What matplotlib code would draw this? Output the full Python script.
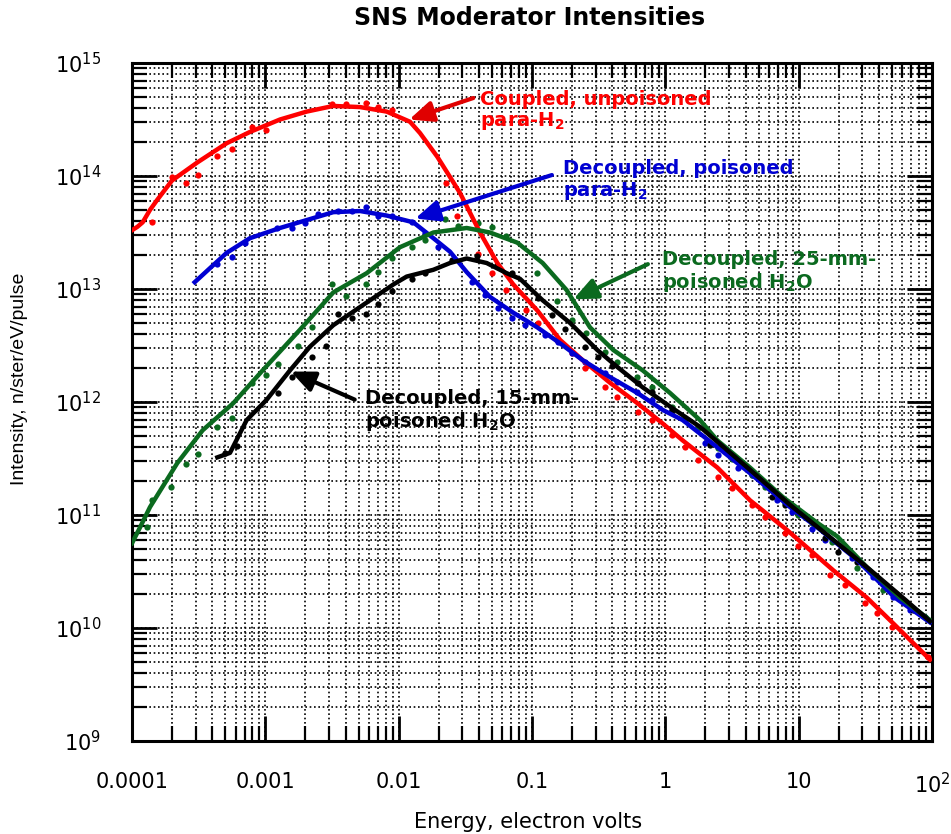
import numpy as np
import matplotlib
matplotlib.use("Agg")
import matplotlib.pyplot as plt
from matplotlib.ticker import LogLocator, NullFormatter

plt.rcParams['font.family'] = ['DejaVu Sans']
plt.rcParams['mathtext.fontset'] = 'dejavusans'

# values, stored as log10(E [eV]) and log10(I)
red_logE = [-4.0, -3.96, -3.92, -3.865, -3.81, -3.70, -3.51, -3.29, -3.115, -2.89, -2.69, -2.49,
            -2.29, -2.09, -1.915, -1.84, -1.71, -1.54, -1.39, -1.26, -1.14, -0.96, -0.79, -0.62, -0.415,
            -0.21, -0.02, 0.13, 0.39, 0.635, 0.91, 1.26, 1.51, 1.71, 1.985]
red_logI = [13.52, 13.55, 13.59, 13.70, 13.79, 13.96, 14.12, 14.29, 14.39, 14.50, 14.57, 14.62,
            14.61, 14.57, 14.48, 14.38, 14.17, 13.85, 13.50, 13.23, 13.04, 12.81, 12.55, 12.37, 12.17,
            11.99, 11.81, 11.66, 11.42, 11.13, 10.87, 10.51, 10.27, 10.04, 9.72]

blue_logE = [-3.53, -3.29, -3.115, -2.89, -2.69, -2.49, -2.29, -2.09, -1.89, -1.74, -1.615, -1.49,
             -1.315, -1.14, -0.96, -0.79, -0.62, -0.415, -0.21, -0.02, 0.13, 0.39, 0.635, 0.935,
             1.14, 1.44, 1.72, 1.985]
blue_logI = [13.06, 13.32, 13.45, 13.54, 13.61, 13.68, 13.69, 13.65, 13.59, 13.45, 13.33, 13.15,
             12.93, 12.79, 12.66, 12.52, 12.37, 12.22, 12.08, 11.93, 11.84, 11.60, 11.37, 11.07,
             10.89, 10.60, 10.27, 10.05]

green_logE = [-4.0, -3.94, -3.865, -3.66, -3.47, -3.24, -3.02, -2.74, -2.49, -2.24, -1.99, -1.74,
              -1.49, -1.315, -1.11, -0.92, -0.74, -0.565, -0.39, -0.17, 0.035, 0.26, 0.39, 0.635,
              0.88, 1.14, 1.29, 1.51, 1.76, 1.985]
green_logI = [10.75, 10.89, 11.07, 11.46, 11.75, 11.99, 12.28, 12.64, 12.97, 13.14, 13.37, 13.50,
              13.54, 13.50, 13.41, 13.23, 12.99, 12.66, 12.46, 12.28, 12.08, 11.84, 11.66, 11.42,
              11.16, 10.93, 10.81, 10.54, 10.27, 10.07]

black_logE = [-3.36, -3.265, -3.14, -2.99, -2.815, -2.665, -2.49, -2.29, -2.04, -1.94, -1.74, -1.615,
              -1.49, -1.34, -1.19, -1.09, -0.92, -0.715, -0.51, -0.36, -0.17, 0.035, 0.26, 0.635,
              0.935, 1.26, 1.51, 1.76, 1.985]
black_logI = [11.51, 11.55, 11.84, 12.02, 12.28, 12.49, 12.68, 12.84, 13.04, 13.11, 13.17, 13.23,
              13.27, 13.23, 13.14, 13.09, 12.90, 12.70, 12.46, 12.31, 12.13, 11.96, 11.78, 11.40,
              11.09, 10.78, 10.54, 10.29, 10.06]

# measured points (dots)
red_pts_logE = [-3.85, -3.70, -3.595, -3.505, -3.36, -3.25, -3.10, -2.995, -2.50, -2.395, -2.245,
                -2.155, -2.05, -1.645, -1.56, -1.405, -1.30, -1.195, -1.045, -0.955, -0.81, -0.70,
                -0.60, -0.45, -0.36, -0.205, -0.10, 0.05, 0.15, 0.245, 0.395, 0.50, 0.65, 0.75,
                0.90, 0.995, 1.10, 1.235, 1.35, 1.50, 1.59, 1.70, 1.97]
red_pts_logI = [13.59, 13.99, 13.94, 14.01, 14.18, 14.24, 14.43, 14.41, 14.64, 14.64, 14.65,
                14.61, 14.58, 13.94, 13.65, 13.31, 13.14, 12.99, 12.81, 12.70, 12.55, 12.43,
                12.30, 12.13, 12.04, 11.91, 11.84, 11.71, 11.60, 11.49, 11.34, 11.24, 11.09, 10.98,
                10.84, 10.73, 10.65, 10.47, 10.38, 10.22, 10.13, 10.01, 9.74]

blue_pts_logE = [-3.36, -3.25, -3.15, -2.91, -2.80, -2.70, -2.605, -2.455, -2.35, -2.245, -2.155,
                 -2.05, -1.90, -1.80, -1.705, -1.45, -1.35, -1.255, -1.15, -1.05, -0.90, -0.805,
                 -0.70, -0.60, -0.45, -0.36, -0.21, -0.10, 0.05, 0.15, 0.30, 0.395, 0.545, 0.65,
                 0.84, 0.95, 1.10, 1.20, 1.40, 1.56, 1.71, 1.835, 1.95]
blue_pts_logI = [13.22, 13.28, 13.41, 13.54, 13.54, 13.58, 13.66, 13.69, 13.69, 13.73, 13.65,
                 13.65, 13.59, 13.50, 13.37, 13.06, 12.95, 12.83, 12.74, 12.68, 12.59, 12.53,
                 12.43, 12.35, 12.26, 12.18, 12.09, 12.02, 11.93, 11.84, 11.64, 11.53, 11.42, 11.35,
                 11.13, 11.03, 10.88, 10.78, 10.62, 10.45, 10.27, 10.16, 10.10]

green_pts_logE = [-3.89, -3.85, -3.71, -3.595, -3.505, -3.36, -3.25, -3.10, -2.995, -2.905, -2.755,
                  -2.65, -2.50, -2.395, -2.245, -2.155, -2.05, -1.90, -1.80, -1.65, -1.555, -1.405,
                  -1.30, -1.195, -0.96, -0.81, -0.70, -0.595, -0.45, -0.36, -0.21, -0.10, 0.05,
                  0.15, 0.245, 0.395, 0.50, 0.65, 0.75, 0.90, 0.995, 1.10, 1.25, 1.44, 1.63, 1.95]
green_pts_logI = [10.89, 11.13, 11.25, 11.45, 11.54, 11.78, 11.86, 12.17, 12.24, 12.34, 12.50,
                  12.66, 13.04, 12.94, 13.04, 13.15, 13.27, 13.37, 13.43, 13.62, 13.56, 13.58,
                  13.55, 13.47, 13.14, 12.89, 12.73, 12.61, 12.44, 12.35, 12.22, 12.13, 11.96,
                  11.86, 11.77, 11.59, 11.50, 11.35, 11.25, 11.11, 11.00, 10.93, 10.76, 10.53, 10.34, 10.10]

black_pts_logE = [-3.30, -3.21, -2.905, -2.80, -2.65, -2.545, -2.455, -2.35, -2.245, -2.155, -2.05,
                  -1.90, -1.80, -1.60, -1.41, -1.26, -1.15, -0.955, -0.85, -0.75, -0.60, -0.505,
                  -0.40, -0.205, -0.10, 0.05, 0.335, 0.80, 0.90, 1.20, 1.295, 1.44, 1.66, 1.86]
black_pts_logI = [11.55, 11.61, 12.08, 12.22, 12.40, 12.50, 12.78, 12.74, 12.78, 12.87, 12.98,
                  13.09, 13.14, 13.26, 13.29, 13.21, 13.14, 12.92, 12.77, 12.65, 12.49, 12.40,
                  12.32, 12.17, 12.09, 11.93, 11.62, 11.16, 11.09, 10.80, 10.67, 10.58, 10.36, 10.16]

xticks = [1e-4, 1e-3, 1e-2, 1e-1, 1, 10, 100]
xtick_labels = ['0.0001', '0.001', '0.01', '0.1', '1', '10', r'$10^2$']
yticks = [1e9, 1e10, 1e11, 1e12, 1e13, 1e14, 1e15]
ytick_labels = [r'$10^{9}$', r'$10^{10}$', r'$10^{11}$', r'$10^{12}$', r'$10^{13}$', r'$10^{14}$', r'$10^{15}$']

RED = '#ff0000'
BLUE = '#0000d2'
GREEN = '#0b6a1f'
BLACK = '#000000'

fig = plt.figure(figsize=(9.51, 8.34), dpi=100)
ax = fig.add_axes([132/951, 1-741/834, 800/951, 678/834])

series = [
    (red_logE, red_logI, red_pts_logE, red_pts_logI, RED),
    (blue_logE, blue_logI, blue_pts_logE, blue_pts_logI, BLUE),
    (green_logE, green_logI, green_pts_logE, green_pts_logI, GREEN),
    (black_logE, black_logI, black_pts_logE, black_pts_logI, BLACK),
]
for lE, lI, pE, pI, c in series:
    ax.plot(10**np.array(pE), 10**np.array(pI), 'o', ms=4.5, color=c, mew=0, zorder=3)
    ax.plot(10**np.array(lE), 10**np.array(lI), '-', lw=3.2, color=c, zorder=4,
            solid_joinstyle='round')

ax.set_xscale('log')
ax.set_yscale('log')
ax.set_xlim(1e-4, 1e2)
ax.set_ylim(1e9, 1e15)
ax.set_xticks(xticks)
ax.set_xticklabels(xtick_labels)
ax.set_yticks(yticks)
ax.set_yticklabels(ytick_labels)
ax.xaxis.set_minor_locator(LogLocator(base=10, subs=np.arange(2, 10), numticks=100))
ax.yaxis.set_minor_locator(LogLocator(base=10, subs=np.arange(2, 10), numticks=100))
ax.xaxis.set_minor_formatter(NullFormatter())
ax.yaxis.set_minor_formatter(NullFormatter())

ax.tick_params(which='both', direction='in', top=True, right=True)
ax.tick_params(which='major', length=18, width=2, pad=22, labelsize=15)
ax.tick_params(which='minor', length=11, width=1.6)
ax.grid(which='both', color='black', linestyle=(0, (1, 1.6)), linewidth=1.2)
for s in ax.spines.values():
    s.set_linewidth(2.2)

# annotations
def label(txt, xy, xytext, tail, c, ac):
    ax.text(xytext[0], xytext[1], txt, color=c, fontsize=14, fontweight='bold',
            ha='left', va='top', linespacing=1.1, zorder=6)
    ax.annotate('', xy=xy, xytext=tail,
                arrowprops=dict(arrowstyle='-|>,head_length=0.8,head_width=0.35', lw=3,
                                color=ac, mutation_scale=18, shrinkA=0, shrinkB=0), zorder=6)

label('Coupled, unpoisoned\npara-H$_\\mathbf{2}$', (0.0120, 3.16e14), (0.0407, 5.8e14),
      (0.0363, 4.9e14), RED, '#e00000')
label('Decoupled, poisoned\npara-H$_\\mathbf{2}$', (0.0133, 4.2e13), (0.171, 1.41e14),
      (0.141, 1.02e14), BLUE, BLUE)
label('Decoupled, 25-mm-\npoisoned H$_\\mathbf{2}$O', (0.204, 8.1e12), (0.944, 2.2e13),
      (0.74, 1.66e13), GREEN, GREEN)
label('Decoupled, 15-mm-\npoisoned H$_\\mathbf{2}$O', (0.00155, 1.86e12), (0.0056, 1.3e12),
      (0.00468, 1.05e12), BLACK, BLACK)

fig.text(530/951, 1-18/834, 'SNS Moderator Intensities', fontsize=17, fontweight='bold',
         ha='center', va='center')
fig.text(528/951, 1-822/834, 'Energy, electron volts', fontsize=15, ha='center', va='center')
fig.text(20/951, 1-379/834, 'Intensity, n/ster/eV/pulse', fontsize=14, rotation=90,
         ha='center', va='center', family='Liberation Sans')

fig.savefig('out.png', dpi=100)
